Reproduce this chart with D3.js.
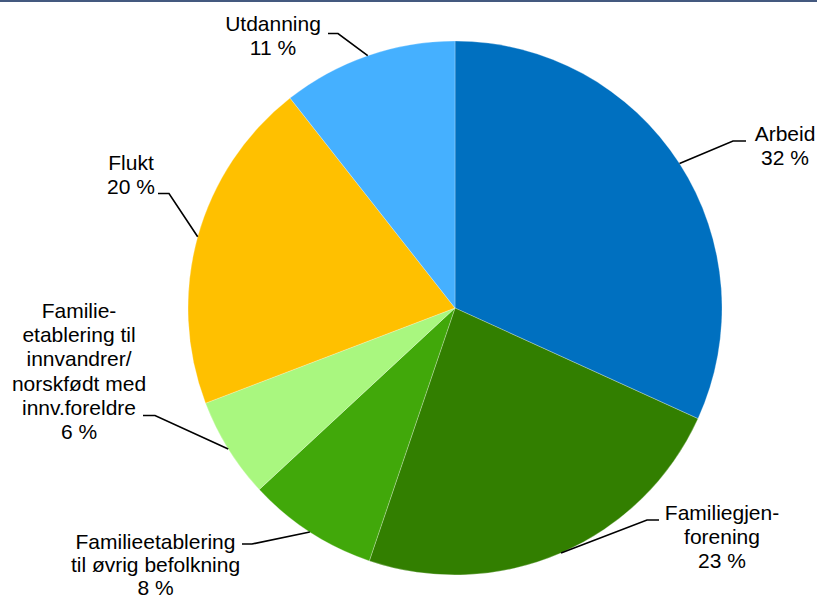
<!DOCTYPE html>
<html>
<head>
<meta charset="utf-8">
<script src="https://cdn.jsdelivr.net/npm/d3@7"></script>
<style>
  html, body { margin: 0; padding: 0; background: #fff; }
  svg { display: block; }
  text { font-family: "Liberation Sans", Arial, sans-serif; font-size: 21px; fill: #000; }
</style>
</head>
<body>
<svg id="chart" width="817" height="601"></svg>
<script>
// ---- data ----
const categories = [
  "Arbeid",
  "Familiegjenforening",
  "Familieetablering til øvrig befolkning",
  "Familieetablering til innvandrer/norskfødt med innv.foreldre",
  "Flukt",
  "Utdanning"
];
const values = [31.8, 23.4, 7.9, 6.1, 20.2, 10.6];
const labelLines = [
  ["Arbeid"],
  ["Familiegjen-", "forening"],
  ["Familieetablering", "til øvrig befolkning"],
  ["Familie-", "etablering til", "innvandrer/", "norskfødt med", "innv.foreldre"],
  ["Flukt"],
  ["Utdanning"]
];
const colors = ["#0070C0", "#327F00", "#41A80A", "#A9F77F", "#FFC000", "#45B0FF"];

// ---- layout (label placement) ----
const labelLayout = [
  { cx: 785, y0: 141, lh: 24.2, ex: 733, ey: 141, sx: 746 },
  { cx: 722, y0: 520, lh: 24.2, ex: 647, ey: 520, sx: 659 },
  { cx: 155.5, y0: 549, lh: 23, ex: 252, ey: 544, sx: 242 },
  { cx: 79, y0: 318, lh: 24.2, ex: 155, ey: 415.5, sx: 143 },
  { cx: 131, y0: 170, lh: 24.2, ex: 169, ey: 193.5, sx: 158 },
  { cx: 273, y0: 31, lh: 23.5, ex: 338, ey: 33.5, sx: 328 }
];

const svg = d3.select("#chart");
const W = 817, H = 601;
const cx = 455, cy = 308, R = 267;

// top border
svg.append("rect").attr("x", 0).attr("y", 0).attr("width", W).attr("height", 2).attr("fill", "#44597F");

const pie = d3.pie().sort(null).value(d => d)(values);
const arc = d3.arc().innerRadius(0).outerRadius(R);
const edgeArc = d3.arc().innerRadius(R).outerRadius(R);

const g = svg.append("g").attr("transform", `translate(${cx},${cy})`);
g.selectAll("path.slice").data(pie).join("path")
  .attr("class", "slice")
  .attr("d", arc)
  .attr("fill", (d, i) => colors[i])
  .attr("stroke", "rgba(255,255,255,0.35)")
  .attr("stroke-width", 0.75);

// leader lines
pie.forEach((d, i) => {
  const p = edgeArc.centroid(d);
  const L = labelLayout[i];
  const pts = [[p[0] + cx, p[1] + cy], [L.ex, L.ey], [L.sx, L.ey]];
  svg.append("path")
    .attr("d", d3.line()(pts))
    .attr("fill", "none")
    .attr("stroke", "#000")
    .attr("stroke-width", 1.6);
});

// labels
pie.forEach((d, i) => {
  const L = labelLayout[i];
  const lines = labelLines[i].concat([Math.round(values[i]) + " %"]);
  const t = svg.append("text").attr("text-anchor", "middle");
  lines.forEach((ln, k) => {
    t.append("tspan").attr("x", L.cx).attr("y", L.y0 + k * L.lh).text(ln);
  });
});
</script>
</body>
</html>
